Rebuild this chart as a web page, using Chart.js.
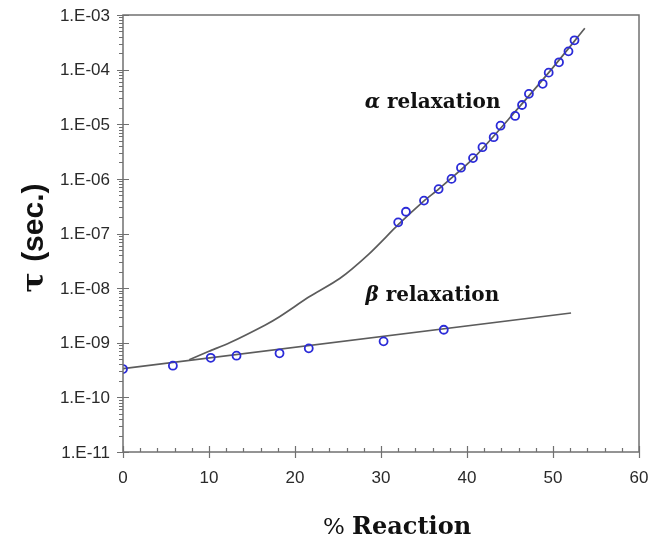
<!DOCTYPE html>
<html>
<head>
<meta charset="utf-8">
<script src="https://cdn.jsdelivr.net/npm/chart.js@4/dist/chart.umd.min.js"></script>
<style>
  html, body { margin: 0; padding: 0; background: #fff; }
  #wrap { width: 653px; height: 543px; }
</style>
</head>
<body>
<div id="wrap"><canvas id="chartCanvas"></canvas></div>
<script>
// measured points (% reaction vs tau in seconds)
const betaX = [0, 5.8, 10.2, 13.2, 18.2, 21.6, 30.3, 37.3];
const betaY = [3.3e-10, 3.8e-10, 5.3e-10, 5.8e-10, 6.4e-10, 7.9e-10, 1.06e-9, 1.73e-9];
const alphaX = [32.0, 32.9, 35.0, 36.7, 38.2, 39.3, 40.7, 41.8, 43.1, 43.9, 45.6, 46.4, 47.2, 48.8, 49.5, 50.7, 51.8, 52.5];
const alphaY = [1.6e-7, 2.5e-7, 4.0e-7, 6.5e-7, 1.0e-6, 1.6e-6, 2.4e-6, 3.8e-6, 5.8e-6, 9.4e-6, 1.42e-5, 2.25e-5, 3.6e-5, 5.5e-5, 8.8e-5, 1.36e-4, 2.16e-4, 3.44e-4];

// fitted curves
const alphaFitX = [7.7, 10, 12.4, 16.5, 18.2, 21.7, 25.2, 28.65, 32.0, 35.0, 36.7, 40.7, 45.6, 49.5, 53.7];
const alphaFitY = [4.9e-10, 7.0e-10, 1.0e-9, 2.1e-9, 3.0e-9, 7.0e-9, 1.5e-8, 4.3e-8, 1.45e-7, 3.96e-7, 6.5e-7, 2.34e-6, 1.7e-5, 8.8e-5, 5.7e-4];
const betaFitX = [0, 52.1];
const betaFitY = [3.35e-10, 3.5e-9];

// axes
const xTicks = [0, 10, 20, 30, 40, 50, 60];
const yTickValues = [1e-11, 1e-10, 1e-9, 1e-8, 1e-7, 1e-6, 1e-5, 1e-4, 1e-3];
const yTickLabels = ['1.E-11', '1.E-10', '1.E-09', '1.E-08', '1.E-07', '1.E-06', '1.E-05', '1.E-04', '1.E-03'];

// annotation positions in data units
const alphaLabel = { x: 28.1, y: 2.47e-5 };
const betaLabel = { x: 28.2, y: 7.2e-9 };

const toPts = (xs, ys) => xs.map((x, i) => ({ x: x, y: ys[i] }));

const axisColor = '#707070';
const tickFont = '17px "Liberation Sans"';

const decoPlugin = {
  id: 'deco',
  afterDraw(chart) {
    const ctx = chart.ctx;
    const xs = chart.scales.x, ys = chart.scales.y;
    const a = chart.chartArea;
    ctx.save();
    ctx.strokeStyle = axisColor;
    ctx.lineWidth = 1.5;
    ctx.strokeRect(a.left, a.top, a.right - a.left, a.bottom - a.top);

    ctx.lineWidth = 1.2;
    ctx.beginPath();
    // x ticks
    for (let v = 0; v <= 60; v += 2) {
      const px = Math.round(xs.getPixelForValue(v)) + 0.5;
      if (v % 10 === 0) {
        ctx.moveTo(px, a.bottom - 6); ctx.lineTo(px, a.bottom + 6);
      } else {
        ctx.moveTo(px, a.bottom - 4); ctx.lineTo(px, a.bottom);
      }
    }
    // y ticks
    for (let e = -11; e <= -3; e++) {
      const py = Math.round(ys.getPixelForValue(Math.pow(10, e))) + 0.5;
      ctx.moveTo(a.left - 6, py); ctx.lineTo(a.left + 6, py);
      if (e < -3) {
        for (let m = 2; m <= 9; m++) {
          const q = Math.round(ys.getPixelForValue(m * Math.pow(10, e))) + 0.5;
          ctx.moveTo(a.left - 4, q); ctx.lineTo(a.left, q);
        }
      }
    }
    ctx.stroke();

    // tick labels
    ctx.fillStyle = '#2a2a2a';
    ctx.font = tickFont;
    ctx.textBaseline = 'middle';
    ctx.textAlign = 'right';
    yTickValues.forEach((v, i) => {
      ctx.fillText(yTickLabels[i], a.left - 13, ys.getPixelForValue(v) + 1);
    });
    ctx.textAlign = 'center';
    xTicks.forEach(v => {
      ctx.fillText(String(v), xs.getPixelForValue(v), a.bottom + 26);
    });

    // in-plot labels
    ctx.fillStyle = '#111';
    ctx.textAlign = 'left';
    const drawLabel = (sym, pos) => {
      const px = xs.getPixelForValue(pos.x), py = ys.getPixelForValue(pos.y);
      ctx.font = 'italic bold 20px "DejaVu Serif"';
      ctx.fillText(sym, px, py);
      const w = ctx.measureText(sym).width;
      ctx.font = 'bold 20px "DejaVu Serif"';
      ctx.fillText(' relaxation', px + w, py);
    };
    drawLabel('\u03b1', alphaLabel);
    drawLabel('\u03b2', betaLabel);

    // x title
    ctx.textBaseline = 'alphabetic';
    ctx.font = '23px "DejaVu Serif"';
    const pw = ctx.measureText('% ').width;
    ctx.font = 'bold 24px "DejaVu Serif"';
    const rw = ctx.measureText('Reaction').width;
    const cx = 397, by = 534;
    const sx = cx - (pw + rw) / 2;
    ctx.font = '23px "DejaVu Serif"';
    ctx.fillText('% ', sx, by);
    ctx.font = 'bold 24px "DejaVu Serif"';
    ctx.fillText('Reaction', sx + pw, by);

    // y title
    ctx.translate(43, 238);
    ctx.rotate(-Math.PI / 2);
    ctx.font = 'bold 30px "DejaVu Serif"';
    const tw = ctx.measureText('\u03c4 ').width;
    ctx.font = 'bold 30px "Liberation Sans"';
    const sw = ctx.measureText('(sec.)').width;
    const tx = -(tw + sw) / 2;
    ctx.font = 'bold 30px "DejaVu Serif"';
    ctx.fillText('\u03c4 ', tx, 0);
    ctx.font = 'bold 30px "Liberation Sans"';
    ctx.fillText('(sec.)', tx + tw, 0);
    ctx.restore();
  }
};

const circleStyle = {
  showLine: false,
  pointStyle: 'circle',
  pointRadius: 4,
  pointBorderWidth: 1.8,
  pointBorderColor: '#2b2bd8',
  pointBackgroundColor: 'rgba(0,0,0,0)'
};

new Chart(document.getElementById('chartCanvas'), {
  type: 'scatter',
  data: {
    datasets: [
      Object.assign({ label: 'alpha data', data: toPts(alphaX, alphaY) }, circleStyle),
      Object.assign({ label: 'beta data', data: toPts(betaX, betaY) }, circleStyle),
      {
        label: 'alpha fit', data: toPts(alphaFitX, alphaFitY), showLine: true,
        borderColor: '#5c5c5c', borderWidth: 1.7, pointRadius: 0, tension: 0.25
      },
      {
        label: 'beta fit', data: toPts(betaFitX, betaFitY), showLine: true,
        borderColor: '#5c5c5c', borderWidth: 1.7, pointRadius: 0
      }
    ]
  },
  options: {
    responsive: true,
    maintainAspectRatio: false,
    animation: false,
    layout: { padding: { top: 15, right: 14, left: 0, bottom: 0 } },
    plugins: { legend: { display: false }, tooltip: { enabled: false } },
    scales: {
      x: {
        type: 'linear', min: 0, max: 60,
        ticks: { display: false },
        grid: { display: false, drawTicks: false },
        border: { display: false },
        afterFit: s => { s.height = 91; }
      },
      y: {
        type: 'logarithmic', min: 1e-11, max: 1e-3,
        ticks: { display: false },
        grid: { display: false, drawTicks: false },
        border: { display: false },
        afterFit: s => { s.width = 123; }
      }
    }
  },
  plugins: [decoPlugin]
});
</script>
</body>
</html>
